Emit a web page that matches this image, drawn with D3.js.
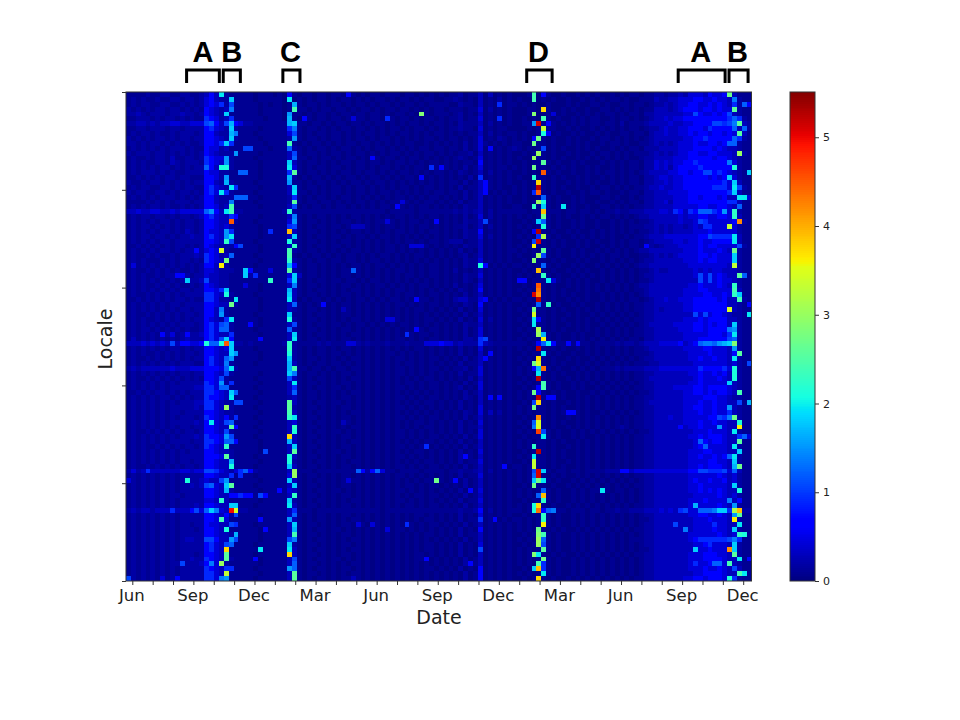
<!DOCTYPE html>
<html>
<head>
<meta charset="utf-8">
<script src="https://cdn.jsdelivr.net/npm/d3@7"></script>
<style>
  html, body { margin: 0; background: #fff; }
  text { font-family: "DejaVu Sans", sans-serif; fill: #222; }
  .marker { font-family: "Liberation Sans", Arial, sans-serif; font-weight: bold; font-size: 29px; fill: #000; }
</style>
</head>
<body>
<svg id="chart" width="960" height="720"></svg>
<script>
// one base-36 digit per cell, digits 0-5 read from lowLevels, others are digit * 0.15.
// rows top to bottom, 128 weekly columns, spaces only to help keep count
var cellRows = [
"1111211221122112 353d211111011101 0510110110110510 1011011101101010 1011201130301010 001g051001001010 1001010110112212 23244435445i3111",
"1212112112212212 45322c1111011111 0d01010110101101 0101101011010110 0112101030102010 100g010100100101 0101101001113223 3444554454439211",
"1212211221121212 4546271111101011 01b1011010110101 1010110101101011 1100211030106011 0101001000101001 1010011011012232 3445544545436285",
"2121212212212121 5432391111101111 01g1101011011010 1101011011010101 1011101140201010 00110p1001010010 0110101010113332 345554554544h211",
"2232122212232212 5432c11111101111 0a11010110101101 101101011010j101 1101201030101010 001j001401001010 1011010110223333 3344754454573211",
"1122212122121211 6542361111110111 0b10510110110141 1011061011010110 1011201140106010 01010g1010010101 1001011010123343 4455555555568621",
"2233232334433444 78537b5422111111 1bc1101101011011 0101101010110101 1010211130201010 011ay15101010101 1011020111233334 3344555577679h32",
"1122122212212222 56432c2111101111 1691011010101101 1010101101011010 1011211040101100 00101m1100101001 0101010110122343 3445554655558382",
"1212212112122212 55322b9111011111 1471010110110101 0110101011010101 1010101130201011 01001e5010010100 1010011011023343 3445455455454h31",
"2121212212122122 55432c2111101111 12a1011010110101 1010110101010110 1011010140102101 0105i10100101001 0110101010123333 3344556555558621",
"2212122121212112 5546c61111110111 1g10101101010110 1101010101100101 0101020141010101 100i110100101010 0101101001123232 3444544554588211",
"1212121212221211 5442311177111011 1821010110101101 0101101010101101 1011020140501012 1010170101001010 1001010110222333 3444555545433211",
"2122212212121212 543222a111101111 1371011010110101 1010101101010110 1010112030101010 0101k10100101001 0110101011123232 3445544554443k21",
"1211212213112212 6544a21111011111 1381101011010110 1051011010110101 0101210140101010 100k110101001010 1010101001223333 4445555545543211",
"1212112213212221 6543a21111101111 1c31011010101101 1011010110101011 0101011050101010 01011h1010010100 0101010110224343 4455655555594211",
"1212121221212122 853ee21111101111 1d41010110110101 1010110101011061 5101020140101101 010i110101010010 1001010110224342 455556555555e211",
"1212221212112222 5442211881101111 16h1011010101101 0110101011010101 1010210130201010 01010u1010010010 1011010101233334 455455775654321c",
"1121212122122111 5542a11111101111 1b20101101010110 1011010101105010 1010102060101010 100f110101001010 0101010110223443 44555554545c4211",
"2112122121212122 5532b21111011111 1a11010110101011 0101101010101010 1011020135101010 0101p10100101010 1001010110223343 445555555564c311",
"1212211221212211 56432d6111101111 13c1011010110101 1010101011010110 1010201135101001 0101z10101001001 0110101011233433 445555556664d721",
"2122112212122121 564d621111011111 13d1101010110101 1010110101010101 1011020135010101 0106u10100100101 1010010110223334 444555555556c311",
"1212121222121212 5532228881101111 1261010110101101 0101010110101011 0101020130101010 0100181010010100 0110100101223333 4445545554533dd4",
"1111212121222122 5532291111011111 12h1011011010101 1010101141010110 1010201130101010 0101ke1010010100 1001010110223342 4445555555566311",
"1212122121121212 55423g1111101111 1370101101011010 1010110510101101 0101021130101001 100f1c101d010010 0110101011223333 4444455445543811",
"3343344334344444 8a53dg2211111111 2f21111111111111 1111101111101111 1112121230201111 11011q1110110110 1011211222333443 6536588865a4f211",
"1212212212122123 5643365111101111 1391010110101011 0101010110101011 0101020140201010 10101i1010100101 0110101012233333 343445544554f311",
"1212121221212212 55433u2111011111 14a1011010101101 0101141010110105 0101021137101010 0101c81010010100 1001010101123333 3433476444445s21",
"1212212121212212 5543421111101111 1671010110110133 3101011010101101 0101120130201010 10101e1010010100 1001010111223232 33234366444m4211",
"1212121221213212 5443a61111101611 1q31011010101011 0101010110101011 0101021150101010 0105z10100101001 0101010101123232 3333444544444211",
"1212212212122322 5643ad1111101111 13c1010110110101 1010110101010101 0101021140201010 10106l1010010101 0101001011233344 444445576666d311",
"1212121221222222 5543f71111011111 1e21011010101101 0101010101101011 0122201130101010 0107y10101001010 1001010110123333 443445445555d311",
"1121212121221212 5432225711101111 13f1010110110101 0101011010444101 0101021130101010 101o110101001010 0101010110521233 3444454554444721",
"1212121221212252 454n211111101111 1g21011010101011 0101011010101010 1010201030101011 01010h1010010100 1010101012233333 334445444543i211",
"1211212112122232 6542381111011111 1g10101101010110 1010110101011010 1010120130101010 1001k71010010101 0101101001123232 344445545444c211",
"1212111212122121 6543i11111101111 1f21010110110110 1011010101010101 0101021140101010 010j110101001010 0101010101223333 334445455444c211",
"1412121212121212 553o211111011111 1b51011010101011 0101101010101011 01010211e5010101 1010181010010100 1010101012233333 333444444443m211",
"1211212121211212 44322211c5111411 1h21011010101181 0101010110101011 0102010130101010 0101q10100101010 0101010101123223 3333434344333211",
"1212112122552122 43322111c2611111 14c3011010101101 0101010101101011 0101021140101010 10101f1010010101 0101010101223333 3333474745433h81",
"121212121212c223 7332211111111f11 16c1010110110110 1011010101010101 0101021030101010 550111d410101010 0101010101123333 3333374745443211",
"1212112121211212 5432211141101111 1391011010101101 0101101010101101 0102010140101010 0101u10100101010 1010101012233333 333445444543f211",
"1212121212122122 5546c11111101111 1b31010110101011 0101010110101010 1010210150101010 1010t10101001010 1010101011233333 334445544444g311",
"1211212121212222 6643e21111011111 1c31011010101101 0101010101101011 0101020130101010 010ys10101010010 0101010101233333 334444554454fc11",
"1121212121221211 664221d111101111 1d30101101010101 1010101101051101 0102331145010101 1010z10100101010 0101010110123343 3444555554533g21",
"1212121212212222 55433i2111101111 1381010150101101 0101010110101011 0101021050101010 010181f010010100 1010101011223333 3344555555533215",
"1212121212122122 5539211111101111 1321011010103101 0101010101011010 1010201040101010 101i110101001010 1010101011223233 33445555555n3211",
"1211212121212212 553a211111011111 1c11010110101101 0101010101010101 0101020130101010 010n110100101001 0101010101223333 333374745543221d",
"1212112121212122 54326d1111101111 1e21011010101011 0101044101010110 1010201040201010 101d510101001010 1010101011223333 3344454555533211",
"1212121212122212 5647821115101111 1371010110110101 1010101011010101 0101021130101010 010d110100101010 0101010101233333 444455454553c211",
"1212212121212112 5648821111011111 1821011010101101 0101010101051011 0101020140101010 1010l10101001010 1010101011223333 344455455559a211",
"1212121524125223 5643361111101111 13c1010110101011 0101010106101101 0101020140101010 0101kb1010010100 1010101011223333 334444455546d211",
"1312121212123222 5647c51111151111 13d1011010101101 0101010110101011 0101022167101010 10101o1010010101 0101010110223333 3344455555578211",
"3334343437355445 e88euc2212111111 2f21111212111442 1211121112111444 5442322263211111 110158d511515110 1111212212333444 453458998abcj211",
"1212121212212122 55434c1111011111 1f21010110101101 0101010101011010 1010201040101010 1010z10101001010 1010101011233333 334444554443a211",
"1212112121212212 55433ca111101111 1e21010110110101 0101011010101010 1010201030501010 01011d1010010010 1010101011123333 3334444544435h11",
"1211212121212122 56438a1111101111 1c21011010101011 0101010110101011 0101020135101010 1010p10100101001 0101010101223333 333445445443d211",
"1212121212122211 5643921111011111 1b31010110110101 0101010101101010 1010201130101010 010in10101001010 1010101011122333 3333444444434217",
"2323333334333444 55548d2111111111 1bg1101101011011 0101010110101011 0101120140101010 1015bt1010010101 0111212222333444 444446555564e211",
"1212121212122122 5543721111101111 1c91011010101101 0101010110101010 1010201140101010 1010d10101001010 1010101011223333 333445445453e211",
"1211212121212121 5547211111011111 1731010110101011 0101010101010110 1010102030101010 0101z10100101010 1010101011233333 333345444543e211",
"1212121212122222 654a261111101111 13d1011010101101 0101010101101011 0101020140101010 10101g1010010101 0101010101223333 33344544444c3211",
"1212121212222233 6648811111011111 1361010110110101 0101010110101011 0101201040101010 01015g1010010100 1010101011223333 4444554555543211",
"1121212212121222 66543c8111101111 1381011010101011 0101010101010101 0101020130101010 101i510101001001 0101010101123333 3344554545543g11",
"1212121221212122 65543d1111011111 1231011010101101 0101010110101011 0101021030505010 1010z15501001010 1010101011223333 3344445554432211",
"1212121212122233 6643227711101111 1h31010110110101 0101010101010110 1010201030101010 0107p10100101010 1010101011233333 334445445443371b",
"1212121212222232 6643k21111011111 1h21011010101101 0101010110101010 1010201040101010 101i110101001010 1010101011223333 33445544544a3211",
"1212121212212222 5543221111101111 1g31010110101011 0101010101010101 0101021040302010 1010110101551010 0101010101223333 3344454454463211",
"1212121212122212 6543526111011111 1fd1011010101101 0101010110101011 0101020130101010 0101s10100101010 1010101011223334 334444455769i211",
"1212121212222232 5d43781111101111 1341010110103101 0101010101011010 1010201040101010 1018n10101001010 1010101011223333 3344454454433e11",
"1212121212122122 55433h5111011111 13f1011010101011 0101010101010110 1010201130101010 0109n10100101010 1010121011223333 353445444a433o11",
"1211212121212212 5543721111101111 13e1010110110101 0101010110101010 1010201040101010 1010v71010010101 0101010101123333 333344454443d211",
"1212121212122232 6554a71111011111 1p31011010101101 0101010110101011 0101020140101010 01011d1010010100 1010101011223333 3334454555433684",
"1212121212222122 6654885111101111 1b31010110101011 0101010101010110 1010201030101010 1010110101001010 1010101011223333 3333485455433h11",
"1212112121212212 6543f11111101111 13c1011010101101 0101010110101601 0101020130101010 101f110100101010 1010101011223333 333345844443d211",
"1212121212121222 5543321111107111 13h1010110110101 0101010101011010 1010201040101010 0101z10101001010 1010101011223333 3334445544433c11",
"1212121212122222 5554h21111011111 1e31011010101101 0101010110101010 1010251030101010 101d110101001010 1010101011223333 333445445458d211",
"1212121212122122 55433b1111101111 1e21010110101011 0101010101010110 1010201140101010 010m110100101010 1010101011223333 333444455443c211",
"1211212121212212 55433e1111011111 1c31011010101101 0101010110101011 0101020130101501 101m110101001010 1010101011223333 333445455543bi11",
"2423633333344344 7764324685211111 13k1110111111118 5258411011110111 1011211230201010 1017yc1011011011 1122255344444444 4445577666748311",
"1212121212122222 5543361611011111 14k1011010101101 0101010110101010 1010201140101010 1018y10101001010 1010101011223333 3334444445434211",
"421212121212e223 4337a11111101111 1c31010110101411 010101010101011i 1015020130101010 101cid1010010101 0101010101223333 3334544544534211",
"1212121212122323 7843ch1111011111 13c1011010101101 0101010101101011 0101020130101010 010i110100101010 1010101011223333 333445444443c211",
"1212121212122222 5543b21111101115 1431010110110101 0101010110101010 1010205140101010 1010181010010101 1d10110101223333 3334454545433e11",
"1212121212212222 5543355655175111 13f1011010101101 0101010101011011 0101020130101010 10108q1010010101 0101010101223333 3333444445434211",
"1212121212122222 443f311111101111 1c21010110101011 0101010110101010 1010201140101010 01011f1010010101 0101010101223333 3334445444493511",
"1212121212122232 55433cc111011111 1d31011010101101 0101010101101011 0101020130101010 101ep10100101010 1010101011223333 3334b4444543a211",
"2323323336333574 8c943xn221111111 1361110111111111 1111011111111111 1111211250201011 101et58911011101 1011211222333434 367448889cc6lq22",
"1212121212122222 5543527111101111 1381010110101101 0101010101011010 1010201040101010 01011f1010010101 0101010101223333 333445544543ah11",
"1212121212122222 554g411111151111 1a31010110101011 0101010101010110 1010201160150101 10101f1010010101 0101010101123333 333344454443o211",
"1212121212122122 5443376111011111 13c1011010101104 1041010106101011 0101020130101010 10101o1010010101 0101010101223333 7333444464433d11",
"1212121212122212 5543e11111105111 13b1010110110101 0101040110101010 1010201050101010 1010i10101001010 1010101011223333 339344445443c211",
"1212121212122222 554332b111101111 13g1011010101101 0101010101010110 1010201130101010 0101jg1010010101 0101010101223333 3334444445434fe1",
"1212121212123322 77533a7111101111 1791010110101011 0101010101010101 0101020130101010 1010k81010010101 0101010111223333 3334566666679611",
"1212121212122222 5643781111011111 1c21011010101101 0101010101010110 1010201040101010 0101k71010010101 0101010101223333 333344564443c211",
"1212121212122222 5643p111111d1111 1d31010110101011 0101010101010110 1010201070101010 10101h1010010101 0101010101123333 3333c445444sc211",
"1212121212122212 5543h11111011111 1p31011010101101 0101010101011010 1010201030101010 101jd10101001010 1010101011223333 333444555443h211",
"1212121212122322 6543h21111501111 1371010110110101 0101010101011501 0101020130101010 10101i1010010101 0101010101223333 3334445555433d15",
"1212121212272223 594k211111101111 1381011010101011 0101010101010101 0101025130101010 1010g61010010101 0101010101223333 33346445884g3211",
"1212121212122222 6543661111011111 1a81010110101101 0101010101010110 1010201050101010 010cq61010010101 0101010101223333 3334445445437311",
"1212121212122222 6643m11111101111 13h1011010101011 0101010101010101 0101020150101010 10101d1010010101 0101010101223333 3333445555433gd1",
"7212121412522222 6649a11111011111 13h1010110101131 0101010101010101 0101020150101010 0101p10100101010 1010101011223333 33445545554e6211"
];

var monthLabels = ["Jun", "Sep", "Dec", "Mar", "Jun", "Sep", "Dec", "Mar", "Jun", "Sep", "Dec"];
var colorbarTicks = [0, 1, 2, 3, 4, 5];
var valueMax = 5.51;
var valueStep = 0.15;
var lowLevels = [0.02, 0.09, 0.17, 0.28, 0.42, 0.62];

// the bracket groups on top, from and to are in weeks (columns)
var markerNames = ["A", "B", "C", "D", "A", "B"];
var markerFrom = [12.4, 19.9, 32.1, 82.0, 113.0, 123.4];
var markerTo = [19.1, 23.4, 35.6, 87.2, 122.6, 127.3];

// jet colormap stops, position 0-1 and colour
var jetStops = [0, 0.11, 0.125, 0.34, 0.35, 0.375, 0.64, 0.65, 0.66, 0.89, 0.91, 1];
var jetColors = ["#000080", "#0000ff", "#0000ff", "#00dbff", "#00e5f7", "#16ffe1", "#e1ff16", "#f7f400", "#ffea00", "#ff1300", "#e80000", "#800000"];

var nCols = 128;
var nRows = cellRows.length;

var svg = d3.select("#chart");
var left = 126, right = 751.5, top_ = 92, bottom = 581;

var x = d3.scaleLinear().domain([0, nCols]).range([left, right]);
var y = d3.scaleLinear().domain([0, nRows]).range([top_, bottom]);
// 31 month ticks, 3 months a label
var monthScale = d3.scaleLinear().domain([0, 30]).range([132.3, 743.2]);
var color = d3.scaleLinear()
    .domain(jetStops.map(function (d) { return d * valueMax; }))
    .range(jetColors)
    .clamp(true);

function digitValue(ch) {
    var n = parseInt(ch || "0", 36);
    return n < lowLevels.length ? lowLevels[n] : n * valueStep;
}

// flat list of cells for the data join
var cells = [];
cellRows.forEach(function (row, r) {
    var digits = row.replace(/ /g, "");
    for (var c = 0; c < nCols; c++) {
        cells.push({ r: r, c: c, v: digitValue(digits[c]) });
    }
});

svg.append("g")
    .attr("shape-rendering", "crispEdges")
    .selectAll("rect")
    .data(cells)
    .enter().append("rect")
    .attr("x", function (d) { return x(d.c); })
    .attr("y", function (d) { return y(d.r); })
    .attr("width", x(1) - x(0))
    .attr("height", y(1) - y(0))
    .attr("fill", function (d) { return color(d.v); });

svg.append("rect")
    .attr("x", left).attr("y", top_)
    .attr("width", right - left).attr("height", bottom - top_)
    .attr("fill", "none").attr("stroke", "#333").attr("stroke-width", 1);

// x axis, every month ticked
var xAxis = d3.axisBottom(monthScale)
    .tickValues(d3.range(0, 31))
    .tickSize(4)
    .tickPadding(4)
    .tickFormat(function (d) { return d % 3 === 0 ? monthLabels[d / 3] : ""; });
var gx = svg.append("g").attr("transform", "translate(0," + bottom + ")").call(xAxis);
gx.select(".domain").remove();
gx.selectAll("line").attr("stroke", "#333");
gx.selectAll("text").style("font-size", "16.5px").attr("dx", -1);

// y axis has ticks only
var yAxis = d3.axisLeft(y)
    .tickValues(d3.range(0, 101, 20))
    .tickSize(4)
    .tickFormat("");
var gy = svg.append("g").attr("transform", "translate(" + left + ",0)").call(yAxis);
gy.select(".domain").remove();
gy.selectAll("line").attr("stroke", "#333");

svg.append("text")
    .attr("x", 439).attr("y", 624)
    .attr("text-anchor", "middle")
    .style("font-size", "19px")
    .text("Date");
svg.append("text")
    .attr("transform", "translate(112,339) rotate(-90)")
    .attr("text-anchor", "middle")
    .style("font-size", "19px")
    .text("Locale");

// colorbar
var cbLeft = 790, cbRight = 815;
var cbScale = d3.scaleLinear().domain([0, valueMax]).range([bottom, top_]);
var cbSteps = d3.range(0, 256).map(function (i) { return i / 256 * valueMax; });
svg.append("g")
    .attr("shape-rendering", "crispEdges")
    .selectAll("rect")
    .data(cbSteps)
    .enter().append("rect")
    .attr("x", cbLeft)
    .attr("width", cbRight - cbLeft)
    .attr("y", function (d) { return cbScale(d + valueMax / 256) - 0.3; })
    .attr("height", cbScale(0) - cbScale(valueMax / 256) + 0.6)
    .attr("fill", function (d) { return color(d); });
svg.append("rect")
    .attr("x", cbLeft).attr("y", top_)
    .attr("width", cbRight - cbLeft).attr("height", bottom - top_)
    .attr("fill", "none").attr("stroke", "#333").attr("stroke-width", 1);
var gc = svg.append("g")
    .attr("transform", "translate(" + cbRight + ",0)")
    .call(d3.axisRight(cbScale).tickValues(colorbarTicks).tickSize(4).tickPadding(4).tickFormat(d3.format("d")));
gc.select(".domain").remove();
gc.selectAll("line").attr("stroke", "#333");
gc.selectAll("text").style("font-size", "11px");

// A B C D brackets
var markerIdx = d3.range(markerNames.length);
svg.append("g").selectAll("path")
    .data(markerIdx)
    .enter().append("path")
    .attr("d", function (i) {
        return d3.line()([[x(markerFrom[i]), 83], [x(markerFrom[i]), 70], [x(markerTo[i]), 70], [x(markerTo[i]), 83]]);
    })
    .attr("fill", "none")
    .attr("stroke", "#000")
    .attr("stroke-width", 3);
svg.append("g").selectAll("text")
    .data(markerIdx)
    .enter().append("text")
    .attr("class", "marker")
    .attr("x", function (i) { return x((markerFrom[i] + markerTo[i]) / 2) - (i > 1 ? 1 : 0); })
    .attr("y", 62)
    .attr("text-anchor", "middle")
    .text(function (i) { return markerNames[i]; });
</script>
</body>
</html>
